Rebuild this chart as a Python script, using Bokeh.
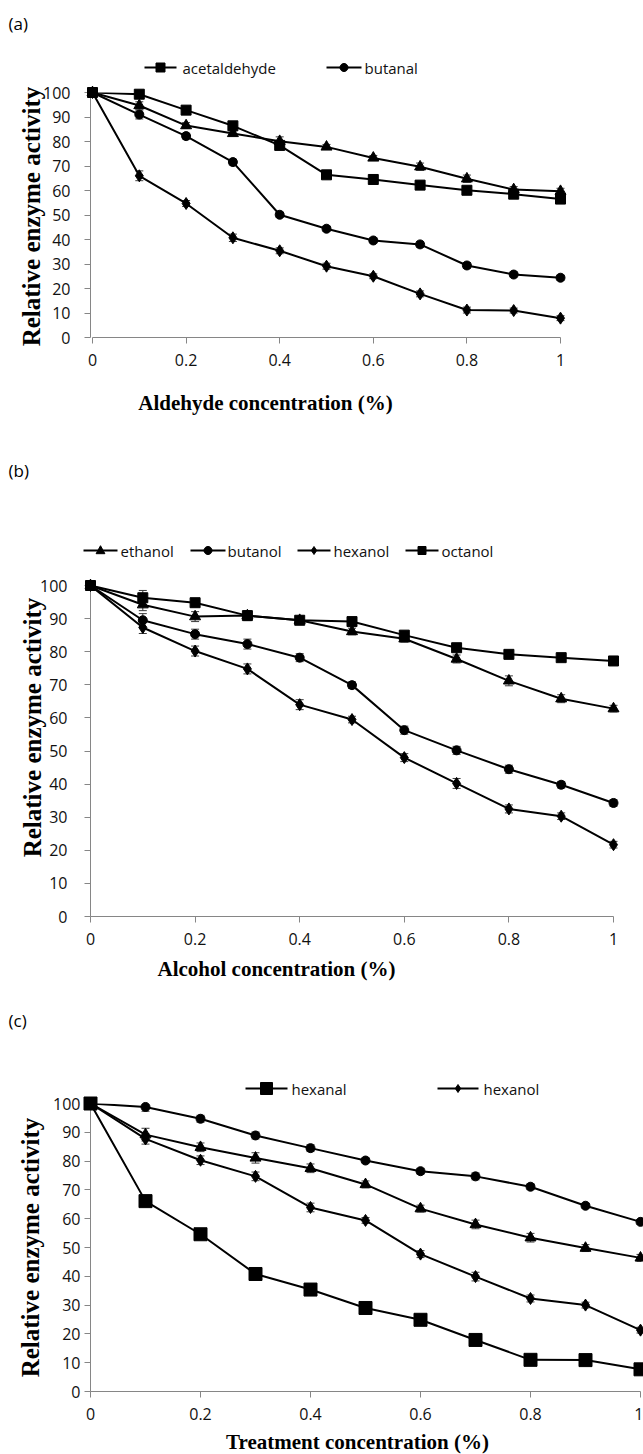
import math
from bokeh.plotting import figure
from bokeh.models import (ColumnDataSource, FixedTicker, CustomJSTickFormatter,
                          Whisker, TeeHead, Range1d)
from bokeh.layouts import column
from bokeh.embed import file_html
from bokeh.resources import INLINE
from bokeh.core.properties import value

# ---------------- data ----------------
conc = [0.0, 0.1, 0.2, 0.3, 0.4, 0.5, 0.6, 0.7, 0.8, 0.9, 1.0]
x_ticks = [0.0, 0.2, 0.4, 0.6, 0.8, 1.0]
y_ticks = [0, 10, 20, 30, 40, 50, 60, 70, 80, 90, 100]

# (a) aldehydes
a_acetaldehyde = [100, 99.3, 92.8, 86.4, 78.4, 66.4, 64.5, 62.2, 60.1, 58.5, 56.5]
a_acetaldehyde_err = [0, 1.0, 1.0, 1.2, 1.5, 1.0, 1.0, 1.0, 1.0, 1.0, 1.0]
a_triangle = [100, 94.7, 86.5, 83.3, 80.1, 77.8, 73.3, 69.7, 64.8, 60.4, 59.7]
a_triangle_err = [0, 1.5, 1.2, 1.0, 1.8, 1.0, 1.0, 1.5, 1.5, 1.2, 1.2]
a_butanal = [100, 91.0, 82.2, 71.6, 50.1, 44.4, 39.6, 38.0, 29.4, 25.7, 24.4]
a_butanal_err = [0, 1.8, 1.2, 1.2, 1.0, 1.0, 1.0, 1.2, 1.2, 1.0, 1.0]
a_diamond = [100, 66.0, 54.7, 40.7, 35.4, 29.1, 25.0, 17.8, 11.2, 11.0, 7.9]
a_diamond_err = [0, 2.0, 1.2, 1.5, 1.2, 1.2, 1.0, 1.2, 1.2, 1.0, 1.0]

# (b) alcohols
b_ethanol = [100, 94.2, 90.6, 90.9, 89.5, 86.1, 83.9, 77.8, 71.2, 65.8, 62.8]
b_ethanol_err = [0, 1.8, 1.5, 1.2, 1.0, 1.0, 1.0, 1.2, 1.5, 1.2, 1.0]
b_butanol = [100, 89.5, 85.3, 82.3, 78.2, 69.9, 56.3, 50.2, 44.5, 39.8, 34.3]
b_butanol_err = [0, 2.0, 1.5, 1.5, 1.2, 1.0, 1.2, 1.2, 1.2, 1.0, 1.0]
b_hexanol = [100, 87.3, 80.2, 74.8, 64.0, 59.5, 48.0, 40.2, 32.5, 30.3, 21.7]
b_hexanol_err = [0, 1.8, 1.5, 1.5, 1.5, 1.0, 1.2, 1.5, 1.2, 1.0, 1.0]
b_octanol = [100, 96.3, 94.8, 90.9, 89.5, 89.1, 85.0, 81.2, 79.2, 78.2, 77.2]
b_octanol_err = [0, 2.2, 1.2, 1.5, 1.2, 1.0, 1.0, 1.0, 1.0, 1.0, 1.0]

# (c) treatments
c_circle = [100, 98.8, 94.7, 88.9, 84.5, 80.2, 76.5, 74.7, 71.1, 64.5, 58.9]
c_circle_err = [0, 1.5, 1.2, 1.2, 1.2, 0.8, 1.0, 1.2, 1.0, 0.8, 0.8]
c_triangle = [100, 89.2, 84.8, 81.1, 77.5, 71.9, 63.5, 58.0, 53.4, 49.8, 46.4]
c_triangle_err = [0, 2.2, 1.5, 1.8, 1.5, 1.2, 1.2, 1.5, 1.5, 1.2, 1.2]
c_hexanol = [100, 87.7, 80.3, 74.7, 63.9, 59.4, 47.7, 39.9, 32.3, 30.0, 21.3]
c_hexanol_err = [0, 1.8, 1.5, 1.5, 1.5, 1.0, 1.2, 1.5, 1.2, 1.0, 1.0]
c_hexanal = [100, 66.1, 54.6, 40.8, 35.4, 29.0, 24.9, 17.9, 11.0, 10.9, 7.7]
c_hexanal_err = [0, 1.5, 1.2, 1.2, 1.2, 1.0, 1.0, 1.0, 1.0, 1.0, 1.0]

AXIS_GREY = "#868686"
TICK_FONT = "Open Sans"
TITLE_FONT = "Liberation Serif"
W = 643
FRAME_LEFT = 90
FRAME_RIGHT = 641


def marker_outline(kind, cx, cy, s):
    """Pixel-space outline of a legend symbol (screen y grows downward)."""
    if kind == "square":
        h = s / 2.0
        return [cx - h, cx + h, cx + h, cx - h], [cy - h, cy - h, cy + h, cy + h]
    if kind == "circle":
        n = 24
        r = s / 2.0
        return ([cx + r * math.cos(2 * math.pi * k / n) for k in range(n)],
                [cy + r * math.sin(2 * math.pi * k / n) for k in range(n)])
    if kind == "triangle":
        return [cx, cx + 0.55 * s, cx - 0.55 * s], [cy - 0.6 * s, cy + 0.4 * s, cy + 0.4 * s]
    # diamond
    return [cx, cx + s / 3.0, cx, cx - s / 3.0], [cy - s / 2.0, cy, cy + s / 2.0, cy]


def make_panel(height, top, bottom, x0_px, x1_px, series, legend_items, legend_y,
               panel_label, xtitle, ytitle, ylab_standoff, xtitle_size="21px",
               ytitle_size="25px"):
    fh = height - top - bottom
    sx = float(x1_px - x0_px)
    xs = (FRAME_LEFT - x0_px) / sx
    xe = (FRAME_RIGHT - x0_px) / sx
    p = figure(width=W, height=height, min_border_left=FRAME_LEFT,
               min_border_right=W - FRAME_RIGHT, min_border_top=top, min_border_bottom=bottom,
               x_range=Range1d(xs, xe), y_range=Range1d(0, 100),
               output_backend="svg", toolbar_location=None, tools="")
    p.xgrid.visible = False
    p.ygrid.visible = False
    p.outline_line_color = None
    p.background_fill_color = "white"
    p.border_fill_color = "white"

    p.xaxis.ticker = FixedTicker(ticks=x_ticks)
    p.xaxis.formatter = CustomJSTickFormatter(code="return String(Math.round(tick*10)/10)")
    p.xaxis.bounds = (0, 1)
    p.yaxis.ticker = FixedTicker(ticks=y_ticks)
    for ax in (p.xaxis, p.yaxis):
        ax.axis_line_color = AXIS_GREY
        ax.major_tick_line_color = AXIS_GREY
        ax.minor_tick_line_color = None
        ax.major_tick_out = 6
        ax.major_tick_in = 0
        ax.major_label_text_font = TICK_FONT
        ax.major_label_text_font_size = "16px"
        ax.major_label_text_color = "#111111"
    p.xaxis.major_label_standoff = 10
    p.yaxis.major_label_standoff = ylab_standoff

    # pixel (relative to this figure's top-left) -> data coordinates
    def dx(X):
        return (X - x0_px) / sx

    def dy(Y):
        return (top + fh - Y) / fh * 100.0

    markers = {}
    for name, vals, errs, marker, size in series:
        up = [v + e for v, e in zip(vals, errs)]
        lo = [v - e for v, e in zip(vals, errs)]
        src = ColumnDataSource(dict(x=conc, y=vals, upper=up, lower=lo))
        p.line("x", "y", source=src, line_color="black", line_width=2)
        wh = Whisker(base="x", upper="upper", lower="lower", source=src,
                     line_color="#3a3a3a", line_width=1,
                     upper_head=TeeHead(size=8, line_color="#3a3a3a", line_width=1),
                     lower_head=TeeHead(size=8, line_color="#3a3a3a", line_width=1))
        p.add_layout(wh)
        p.scatter("x", "y", source=src, marker=marker, size=size,
                  fill_color="black", line_color="black", level="overlay")
        markers[name] = marker

    # manual legend (glyph start px, glyph end px, text start px, label, symbol size)
    for g0, g1, t0, label, msize in legend_items:
        p.segment(x0=[dx(g0)], y0=[dy(legend_y)], x1=[dx(g1)], y1=[dy(legend_y)],
                  line_color="black", line_width=2, level="overlay")
        mx, my = marker_outline(markers[label], (g0 + g1) / 2.0, legend_y, msize)
        p.patch(x=[dx(v) for v in mx], y=[dy(v) for v in my], fill_color="black",
                line_color="black", line_width=1, level="overlay")
        p.text(x=[dx(t0)], y=[dy(legend_y)], text=[label], text_font=value(TICK_FONT),
               text_font_size=value("15px"), text_color="#111111",
               text_align="left", text_baseline="middle", level="overlay")

    def add_text(txt, X, Y, font, size, bold=False, angle=0.0, align="center"):
        p.text(x=[dx(X)], y=[dy(Y)], text=[txt], text_font=value(font),
               text_font_size=value(size), text_font_style="bold" if bold else "normal",
               text_align=align, text_baseline="middle", angle=angle,
               text_color="black", level="overlay")

    add_text(panel_label[0], panel_label[1], panel_label[2], TICK_FONT, "17px", align="left")
    add_text(xtitle[0], xtitle[1], xtitle[2], TITLE_FONT, xtitle_size, bold=True)
    add_text(ytitle[0], ytitle[1], ytitle[2], TITLE_FONT, ytitle_size, bold=True,
             angle=math.pi / 2)
    return p


pa = make_panel(
    height=460, top=92, bottom=123, x0_px=92, x1_px=560,
    series=[("acetaldehyde", a_acetaldehyde, a_acetaldehyde_err, "square", 10),
            ("propanal", a_triangle, a_triangle_err, "triangle", 11),
            ("butanal", a_butanal, a_butanal_err, "circle", 9),
            ("hexanal", a_diamond, a_diamond_err, "diamond", 12)],
    legend_items=[(144, 176, 182, "acetaldehyde", 9), (326, 361, 364, "butanal", 8)],
    legend_y=67,
    panel_label=("(a)", 8, 23),
    xtitle=("Aldehyde concentration (%)", 265, 402),
    ytitle=("Relative enzyme activity", 31, 216),
    ylab_standoff=14)

pb = make_panel(
    height=530, top=125, bottom=74, x0_px=90, x1_px=613,
    series=[("ethanol", b_ethanol, b_ethanol_err, "triangle", 11),
            ("butanol", b_butanol, b_butanol_err, "circle", 9),
            ("hexanol", b_hexanol, b_hexanol_err, "diamond", 12),
            ("octanol", b_octanol, b_octanol_err, "square", 10)],
    legend_items=[(83, 117, 120, "ethanol", 8), (190, 225, 227, "butanol", 8),
                  (297, 330, 333, "hexanol", 8), (405, 438, 441, "octanol", 8)],
    legend_y=90,
    panel_label=("(b)", 8, 10),
    xtitle=("Alcohol concentration (%)", 276, 508),
    ytitle=("Relative enzyme activity", 32, 267),
    ylab_standoff=17)

pc = make_panel(
    height=464, top=113, bottom=63, x0_px=90, x1_px=640,
    series=[("circle", c_circle, c_circle_err, "circle", 9),
            ("triangle", c_triangle, c_triangle_err, "triangle", 11),
            ("hexanol", c_hexanol, c_hexanol_err, "diamond", 12),
            ("hexanal", c_hexanal, c_hexanal_err, "square", 13)],
    legend_items=[(245, 287, 291, "hexanal", 12), (437, 478, 483, "hexanol", 8)],
    legend_y=98,
    panel_label=("(c)", 8, 30),
    xtitle=("Treatment concentration (%)", 357, 451),
    ytitle=("Relative enzyme activity", 30, 257),
    ylab_standoff=4)

layout = column(pa, pb, pc, spacing=0)
open("out.html", "w").write(file_html(layout, INLINE))
